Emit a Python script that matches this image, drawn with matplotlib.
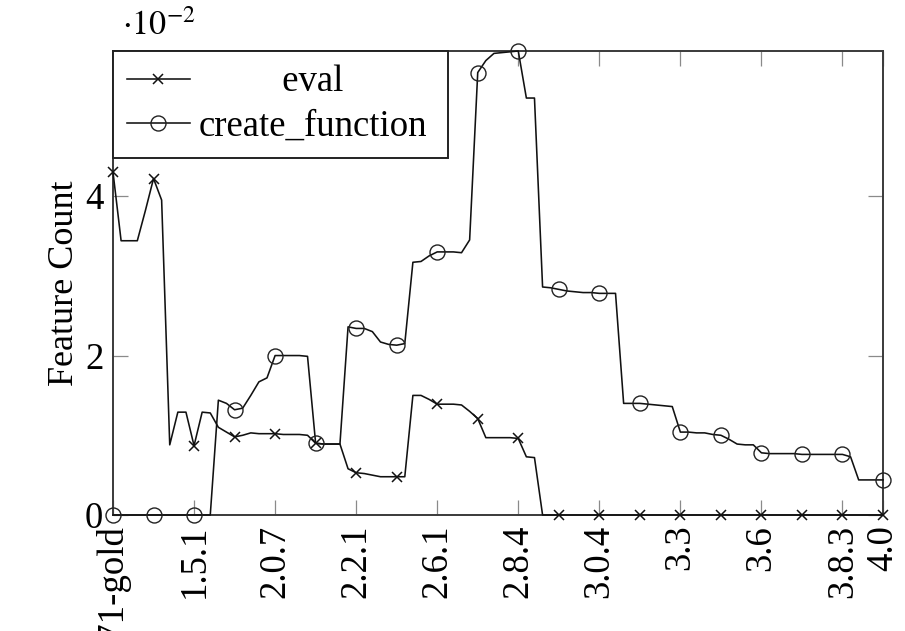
import numpy as np
import matplotlib
matplotlib.use("Agg")
import matplotlib.pyplot as plt
from matplotlib.font_manager import FontProperties

plt.rcParams['font.family'] = ['Liberation Serif', 'DejaVu Serif']
plt.rcParams['mathtext.fontset'] = 'stix'

# WordPress releases: labelled ticks (index into the release sequence)
tick_index = [0, 10, 20, 30, 40, 50, 60, 70, 80, 90, 95]
tick_labels = ['0.71-gold', '1.5.1', '2.0.7', '2.2.1', '2.6.1', '2.8.4',
               '3.0.4', '3.3', '3.6', '3.8.3', '4.0']

# Feature counts per release, in units of 10^-2
eval_counts = [
    4.30, 3.44, 3.44, 3.44, 3.82, 4.22, 3.95, 0.88, 1.29, 1.29,
    0.87, 1.29, 1.28, 1.10, 1.04, 0.98, 1.00, 1.03, 1.02, 1.02,
    1.02, 1.01, 1.01, 1.01, 1.00, 0.90, 0.89, 0.89, 0.89, 0.58,
    0.53, 0.52, 0.50, 0.48, 0.48, 0.48, 0.48, 1.50, 1.50, 1.45,
    1.39, 1.39, 1.39, 1.38, 1.30, 1.21, 0.97, 0.97, 0.97, 0.97,
    0.96, 0.73, 0.72, 0.00, 0.00, 0.00, 0.00, 0.00, 0.00, 0.00,
    0.00, 0.00, 0.00, 0.00, 0.00, 0.00, 0.00, 0.00, 0.00, 0.00,
    0.00, 0.00, 0.00, 0.00, 0.00, 0.00, 0.00, 0.00, 0.00, 0.00,
    0.00, 0.00, 0.00, 0.00, 0.00, 0.00, 0.00, 0.00, 0.00, 0.00,
    0.00, 0.00, 0.00, 0.00, 0.00, 0.00,
]
create_function_counts = [
    0.00, 0.00, 0.00, 0.00, 0.00, 0.00, 0.00, 0.00, 0.00, 0.00,
    0.00, 0.00, 0.00, 1.44, 1.40, 1.32, 1.34, 1.50, 1.67, 1.72,
    2.00, 2.00, 2.00, 2.00, 1.99, 0.90, 0.89, 0.89, 0.89, 2.36,
    2.34, 2.34, 2.30, 2.17, 2.14, 2.13, 2.15, 3.17, 3.18, 3.25,
    3.30, 3.30, 3.30, 3.29, 3.45, 5.55, 5.70, 5.79, 5.80, 5.81,
    5.82, 5.23, 5.23, 2.86, 2.85, 2.83, 2.81, 2.80, 2.79, 2.79,
    2.78, 2.78, 2.78, 1.40, 1.40, 1.40, 1.39, 1.38, 1.37, 1.36,
    1.04, 1.04, 1.03, 1.03, 1.01, 1.00, 0.95, 0.89, 0.88, 0.88,
    0.78, 0.77, 0.77, 0.77, 0.77, 0.76, 0.76, 0.76, 0.76, 0.76,
    0.76, 0.73, 0.44, 0.44, 0.44, 0.44,
]
y_ticks = [0, 2, 4]

DPI = 100
W, H = 905, 631
FS = 26.5

fig = plt.figure(figsize=(W / DPI, H / DPI), dpi=DPI)
ax = fig.add_axes([113 / W, 1 - 515 / H, 770 / W, 464 / H])

x = np.arange(len(eval_counts))
ax.plot(x, eval_counts, color='#111111', lw=1.15, marker='x', markevery=5,
        ms=7.5, mew=1.1, clip_on=False, label='eval', zorder=3)
ax.plot(x, create_function_counts, color='#111111', lw=1.15, marker='o',
        markevery=5, ms=10.8, mfc='none', mec='#222222', mew=1.0,
        clip_on=False, label='create_function', zorder=3)

ax.set_xlim(0, len(x) - 1)
ax.set_ylim(0, max(create_function_counts))

ax.set_xticks(tick_index)
ax.set_xticklabels(tick_labels, rotation=90, fontsize=FS)
ax.set_yticks(y_ticks)
ax.set_yticklabels([str(v) for v in y_ticks], fontsize=FS)
ax.tick_params(axis='both', direction='in', length=10.5, width=0.9,
               color='#8a8a8a', top=True, right=True, pad=7)
for s in ax.spines.values():
    s.set_color('#3a3a3a')
    s.set_linewidth(1.4)

ax.set_ylabel('Feature Count', fontsize=FS - 0.5, labelpad=3)
ax.text(0.012, 1.0345, r'$\cdot 10^{-2}$', transform=ax.transAxes,
        ha='left', va='baseline', fontsize=FS - 2)

# centre the short legend entry within the label column
fp = FontProperties(family='Liberation Serif', size=FS)
renderer = fig.canvas.get_renderer()
def text_w(s):
    return renderer.get_text_width_height_descent(s, fp, ismath=False)[0]
target = (text_w('create_function') + text_w('eval')) / 2
n = 0
while text_w(' ' * (n + 1) + 'eval') <= target:
    n += 1
eval_label = ' ' * n + 'eval'

handles, _ = ax.get_legend_handles_labels()
leg = ax.legend(handles, [eval_label, 'create_function'], loc='upper left',
                bbox_to_anchor=(0, 1, 335 / 770, 0), mode='expand',
                borderaxespad=0, fontsize=FS,
                fancybox=False, framealpha=1, edgecolor='#222222',
                handlelength=1.7, handletextpad=0.25, borderpad=0.38,
                labelspacing=0.275)
leg.get_frame().set_linewidth(1.4)

fig.savefig('out.png', dpi=DPI)
